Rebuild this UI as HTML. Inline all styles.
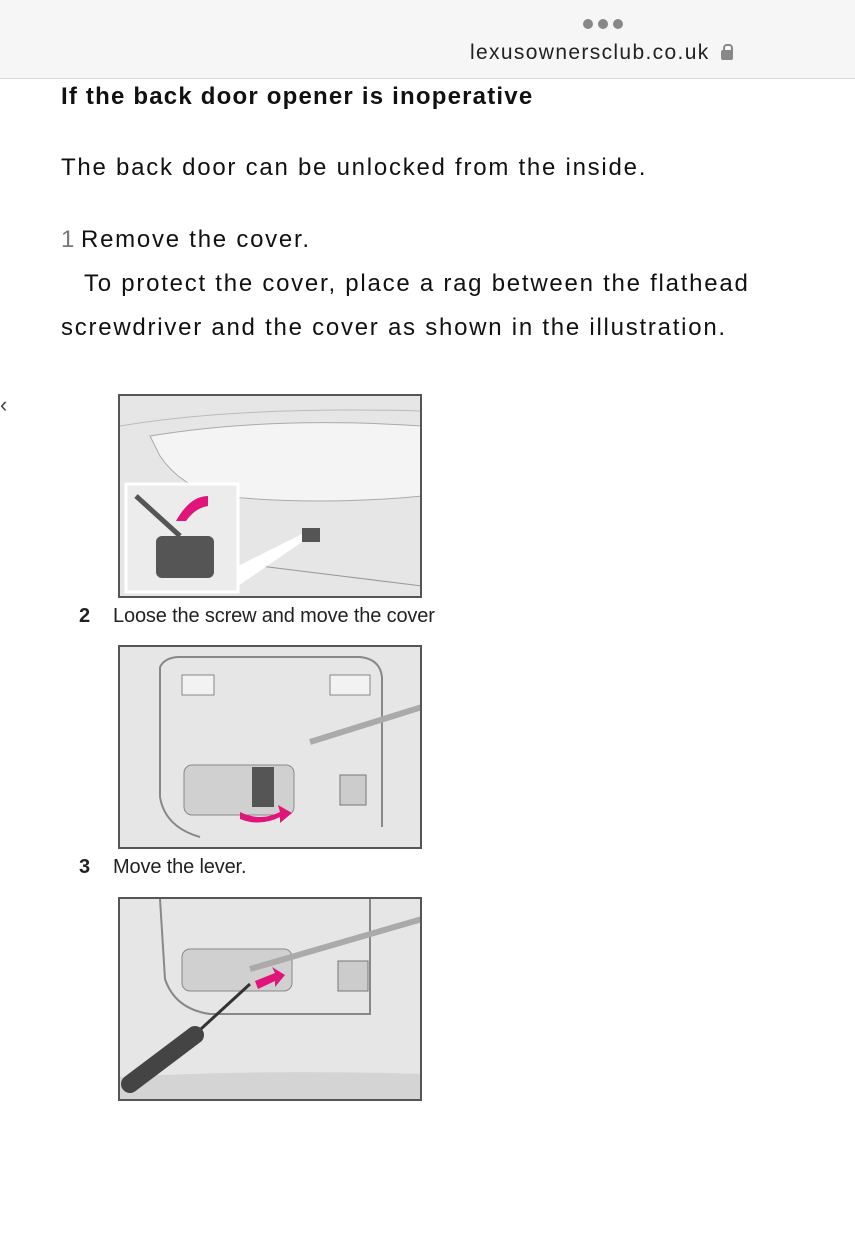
<!DOCTYPE html>
<html><head><style>
body{margin:0;width:855px;height:1249px;background:#fff;position:relative;overflow:hidden;font-family:"Liberation Sans",sans-serif;color:#111}
.a{position:absolute;white-space:nowrap}
.t{font-size:24px;letter-spacing:1.75px}
.box{position:absolute;left:118px;width:300px;height:200px;border:2px solid #555;background:#e6e6e6;overflow:hidden}
.cap{position:absolute;left:79px;font-size:20px;letter-spacing:-0.15px;color:#222;white-space:nowrap}
.cap span{position:absolute;left:34px;white-space:nowrap}
</style></head><body>
<div class="a" style="left:0;top:0;width:855px;height:78px;background:#f6f6f6;border-bottom:1px solid #d8d8d8"></div>
<div class="a" style="left:583px;top:19px;font-size:0">
<span style="display:inline-block;width:10px;height:10px;border-radius:50%;background:#888;margin-right:5px"></span><span style="display:inline-block;width:10px;height:10px;border-radius:50%;background:#888;margin-right:5px"></span><span style="display:inline-block;width:10px;height:10px;border-radius:50%;background:#888"></span></div>
<div class="a" style="left:470px;top:41px;font-size:21px;letter-spacing:1.35px;color:#222">lexusownersclub.co.uk</div>
<div class="a" style="left:721px;top:50px;width:12px;height:10px;background:#888;border-radius:2px"></div>
<div class="a" style="left:723px;top:44px;width:6px;height:8px;border:2px solid #888;border-bottom:none;border-radius:4px 4px 0 0"></div>
<div class="a" style="left:61px;top:83px;font-size:24px;letter-spacing:1.2px;font-weight:bold">If the back door opener is inoperative</div>
<div class="a t" style="left:61px;top:154px">The back door can be unlocked from the inside.</div>
<div class="a t" style="left:61px;top:226px;color:#777">1</div>
<div class="a t" style="left:81px;top:226px">Remove the cover.</div>
<div class="a t" style="left:84px;top:270px">To protect the cover, place a rag between the flathead</div>
<div class="a t" style="left:61px;top:314px">screwdriver and the cover as shown in the illustration.</div>
<div class="a" style="left:0;top:392px;font-size:22px;color:#444">&lsaquo;</div>

<div class="box" style="top:394px">
<svg width="302" height="200">
<path d="M30 40 Q150 20 302 30 L302 100 Q200 110 100 100 Q60 90 40 60Z" fill="#f4f4f4" stroke="#aaa"/>
<path d="M0 30 Q120 10 302 15" stroke="#bbb" fill="none"/>
<path d="M140 170 L302 190" stroke="#999" fill="none"/>
<rect x="182" y="132" width="18" height="14" fill="#555"/>
<polygon points="118,170 182,138 182,146 118,190" fill="#fff"/>
<rect x="6" y="88" width="112" height="108" fill="#ececec" stroke="#fff" stroke-width="3"/>
<line x1="16" y1="100" x2="60" y2="140" stroke="#555" stroke-width="5"/>
<path d="M56 125 Q70 100 88 100 L88 110 Q75 112 66 125Z" fill="#e0147a"/>
<rect x="36" y="140" width="58" height="42" rx="6" fill="#555"/>
</svg></div>
<div class="cap" style="top:605px"><b>2</b><span>Loose the screw and move the cover</span></div>

<div class="box" style="top:645px">
<svg width="302" height="200">
<path d="M40 20 Q45 10 60 10 L240 10 Q260 12 262 30 L262 180 M40 20 L40 150 Q45 180 80 190" stroke="#888" fill="none" stroke-width="2"/>
<rect x="62" y="28" width="32" height="20" fill="#f2f2f2" stroke="#888"/>
<rect x="210" y="28" width="40" height="20" fill="#f2f2f2" stroke="#888"/>
<rect x="64" y="118" width="110" height="50" rx="8" fill="#d0d0d0" stroke="#888"/>
<rect x="220" y="128" width="26" height="30" fill="#ccc" stroke="#777"/>
<path d="M190 95 L302 60" stroke="#aaa" fill="none" stroke-width="6"/>
<rect x="132" y="120" width="22" height="40" fill="#555"/>
<path d="M120 165 Q140 175 160 165 L158 158 L172 166 L160 176 L160 170 Q140 180 120 172Z" fill="#e0147a"/>
</svg></div>
<div class="cap" style="top:856px"><b>3</b><span>Move the lever.</span></div>

<div class="box" style="top:897px">
<svg width="302" height="200">
<path d="M40 0 L45 80 Q55 110 90 115 L250 115 L250 0" stroke="#888" fill="none" stroke-width="2"/>
<rect x="62" y="50" width="110" height="42" rx="8" fill="#d0d0d0" stroke="#888"/>
<rect x="218" y="62" width="30" height="30" fill="#ccc" stroke="#777"/>
<path d="M130 70 L302 20" stroke="#aaa" fill="none" stroke-width="6"/>
<path d="M0 178 Q150 170 302 175 L302 200 L0 200Z" fill="#d4d4d4"/>
<line x1="70" y1="140" x2="130" y2="85" stroke="#333" stroke-width="3"/>
<line x1="10" y1="185" x2="75" y2="136" stroke="#444" stroke-width="18" stroke-linecap="round"/>
<path d="M135 82 L155 74 L152 68 L165 76 L155 88 L155 82 L138 90Z" fill="#e0147a"/>
</svg></div>
</body></html>
